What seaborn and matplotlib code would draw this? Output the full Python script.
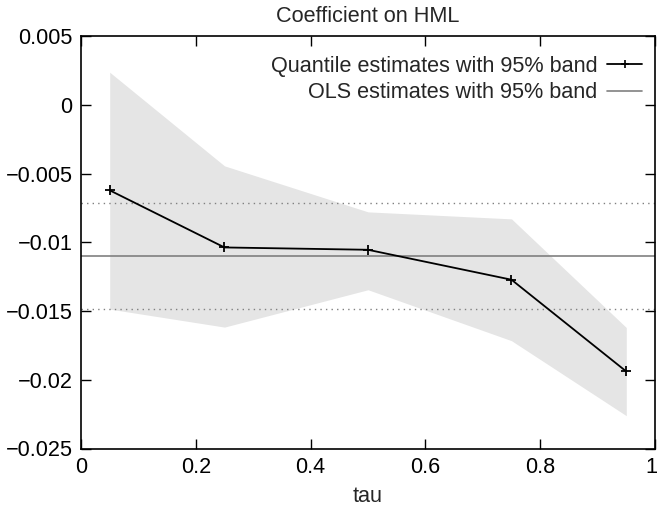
import numpy as np
import pandas as pd
import matplotlib
matplotlib.use("Agg")
import matplotlib.pyplot as plt
from matplotlib.lines import Line2D
import matplotlib.transforms as mtransforms
import seaborn as sns

tau = [0.05, 0.25, 0.5, 0.75, 0.95]
q_est = [-0.0062, -0.01036, -0.01053, -0.01271, -0.01939]
q_upper = [0.0024, -0.00442, -0.00777, -0.00828, -0.01619]
q_lower = [-0.01485, -0.01616, -0.01344, -0.01715, -0.02261]
ols_est = -0.01095
ols_upper = -0.00709
ols_lower = -0.01483

xticks = [0, 0.2, 0.4, 0.6, 0.8, 1]
xticklabels = ["0", "0.2", "0.4", "0.6", "0.8", "1"]
yticks = [0.005, 0, -0.005, -0.01, -0.015, -0.02, -0.025]
yticklabels = ["0.005", "0", "\u22120.005", "\u22120.01", "\u22120.015", "\u22120.02", "\u22120.025"]

sns.set_style("ticks")
plt.rcParams["font.family"] = ["Liberation Sans", "DejaVu Sans"]
FS = 15.6

fig = plt.figure(figsize=(6.57, 5.07), dpi=100)
ax = fig.add_axes([81/657, 1-448.5/507, 574/657, 412/507])

df = pd.DataFrame({"tau": tau, "est": q_est, "lo": q_lower, "hi": q_upper})
ax.fill_between(df["tau"], df["lo"], df["hi"], color="#e5e5e5", linewidth=0, zorder=1)
ax.axhline(ols_upper, color="#808080", linestyle=(0, (1, 3)), linewidth=1, zorder=2)
ax.axhline(ols_lower, color="#808080", linestyle=(0, (1, 3)), linewidth=1, zorder=2)
ax.axhline(ols_est, color="#808080", linewidth=1.2, zorder=2)
sns.lineplot(data=df, x="tau", y="est", ax=ax, color="black", marker="+",
             markersize=7, markeredgewidth=1.3, markeredgecolor="black",
             linewidth=1.3, zorder=3, legend=False)

ax.set_xlim(0, 1)
ax.set_ylim(-0.025, 0.005)
ax.set_xticks(xticks)
ax.set_xticklabels(xticklabels)
ax.set_yticks(yticks)
ax.set_yticklabels(yticklabels)
ax.tick_params(direction="in", length=7, width=1, top=True, right=True,
               labelsize=FS, colors="black", pad=6)
for s in ax.spines.values():
    s.set_linewidth(1.2)
    s.set_color("black")
# keep the last x tick label inside the canvas
last = ax.get_xticklabels()[-1]
last.set_transform(last.get_transform() + mtransforms.ScaledTranslation(-4/100, 0, fig.dpi_scale_trans))

ax.set_xlabel("tau", fontsize=FS, labelpad=6)
ax.set_ylabel("")
ax.set_title("Coefficient on HML", fontsize=FS, pad=10.5)

handles = [
    Line2D([], [], color="black", linewidth=1.3, marker="+", markersize=6,
           markeredgewidth=1.2),
    Line2D([], [], color="#808080", linewidth=1.2),
]
labels = ["Quantile estimates with 95% band", "OLS estimates with 95% band"]
ax.legend(handles, labels, loc="upper right", bbox_to_anchor=(1.0, 0.985),
          frameon=False, markerfirst=False, fontsize=FS, handlelength=1.6,
          handletextpad=0.45, labelspacing=0.25, borderaxespad=0.2,
          numpoints=1)

fig.savefig("out.png", dpi=100)
